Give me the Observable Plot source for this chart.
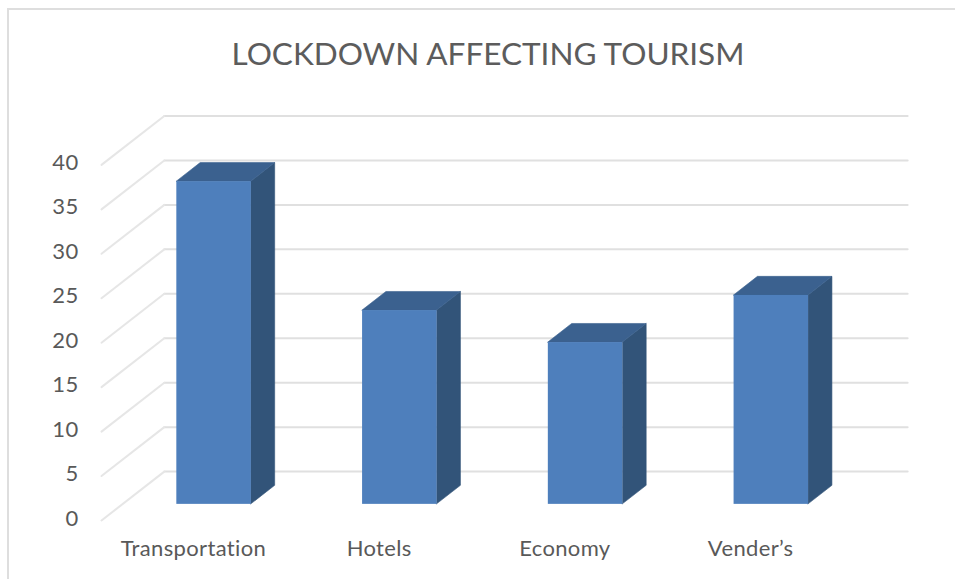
<!DOCTYPE html>
<html>
<head>
<meta charset="utf-8">
<script src="https://cdn.jsdelivr.net/npm/d3@7"></script>
<script src="https://cdn.jsdelivr.net/npm/@observablehq/plot@0.6"></script>
<style>
html,body{margin:0;padding:0;background:#fff;overflow:hidden;}
#frame{position:relative;margin:8px 0 0 7px;border-top:2px solid #dedede;border-left:2px solid #dedede;height:569px;box-sizing:content-box;}
#title{height:70px;line-height:86px;text-align:center;font-family:Lato,sans-serif;font-size:31.5px;color:#5c5c5c;width:958px;margin-left:0;white-space:nowrap;}
svg{display:block;}
svg text{letter-spacing:.35px;}
</style>
</head>
<body>
<div id="frame"><div id="title">LOCKDOWN AFFECTING TOURISM</div><div id="chart"></div></div>
<script>
const categories = ["Transportation", "Hotels", "Economy", "Vender’s"];
const values = [36.3, 21.8, 18.2, 23.5];
const ticks = [0, 5, 10, 15, 20, 25, 30, 35, 40];

// oblique projection: how far one unit of depth shifts a point
const depthX = 0.338, depthY = 5.5;
const barLeft = 0.294, barRight = 0.695, zFront = 0.33, zBack = 0.71;
const backEnd = 4.002;

const bars = categories.map((name, i) => ({name, i, value: values[i]}));
const ends = (f) => bars.flatMap((b) => [0, 1].map((t) => f(b, t)));

const side = ends((b, t) => {
  const z = t ? zBack : zFront;
  return {name: b.name, x: b.i + barRight + z * depthX, y1: z * depthY, y2: b.value + z * depthY};
});
const top_ = ends((b, t) => {
  const z = t ? zBack : zFront;
  return {name: b.name, y: b.value + z * depthY, x1: b.i + barLeft + z * depthX, x2: b.i + barRight + z * depthX};
});
const front = bars.map((b) => ({
  name: b.name,
  x1: b.i + barLeft + zFront * depthX,
  x2: b.i + barRight + zFront * depthX,
  y1: zFront * depthY,
  y2: b.value + zFront * depthY
}));
const diagonals = ticks.flatMap((v) => [
  {v, x: 0, y: v},
  {v, x: depthX, y: v + depthY}
]);
const backLines = ticks.flatMap((v) => [
  {v, x: depthX, y: v + depthY},
  {v, x: backEnd + depthX, y: v + depthY}
]);

const font = "Lato, sans-serif";
const chart = Plot.plot({
  width: 946,
  height: 499,
  margin: 0,
  x: {type: "linear", domain: [0, 4], range: [92, 835], axis: null},
  y: {type: "linear", domain: [0, 45.5], range: [440, 35.5], axis: null},
  marks: [
    Plot.line(backLines, {x: "x", y: "y", z: "v", stroke: "#e0e0e0", strokeWidth: 2}),
    Plot.line(diagonals, {x: "x", y: "y", z: "v", stroke: "#e6e6e6", strokeWidth: 2}),
    Plot.areaY(side, {x: "x", y1: "y1", y2: "y2", z: "name", fill: "#325479", stroke: "#325479", strokeWidth: 0.6}),
    Plot.areaX(top_, {y: "y", x1: "x1", x2: "x2", z: "name", fill: "#3b618f", stroke: "#3b618f", strokeWidth: 0.6}),
    Plot.rect(front, {x1: "x1", x2: "x2", y1: "y1", y2: "y2", fill: "#4e7fbc"}),
    Plot.text(ticks, {
      x: () => 0, y: (d) => d, text: (d) => String(d), dx: -23, dy: -2,
      textAnchor: "end", fontSize: 22, fontFamily: font, fill: "#595959"
    }),
    Plot.text(bars, {
      x: (d) => d.i + 0.5, y: () => 0, text: "name", dx: -1, dy: 28,
      fontSize: 22, fontFamily: font, fill: "#595959"
    })
  ]
});
document.getElementById("chart").appendChild(chart);
</script>
</body>
</html>
